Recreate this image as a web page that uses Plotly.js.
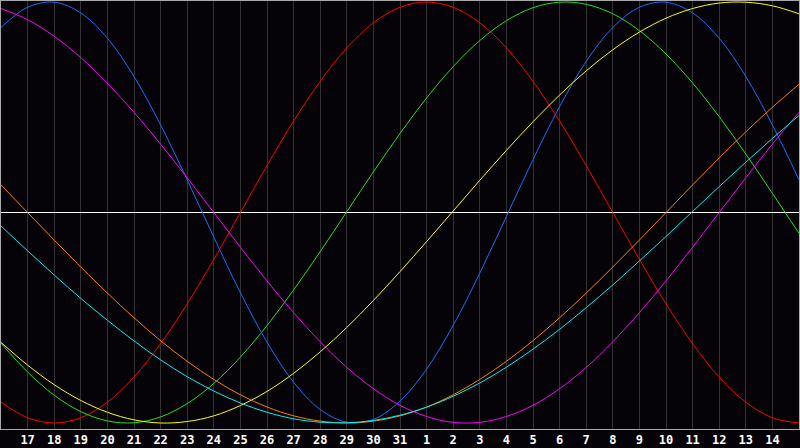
<!DOCTYPE html>
<html>
<head>
<meta charset="utf-8">
<script src="https://cdn.plot.ly/plotly-3.0.1.min.js"></script>
<style>
  html, body { margin: 0; padding: 0; background: #050307; }
  #chart { width: 800px; height: 448px; }
</style>
</head>
<body>
<div id="chart"></div>
<script>
// Day labels from 16 Oct to 15 Nov (edges are outside the labelled range)
const dayLabels = ['16','17','18','19','20','21','22','23','24','25','26','27','28','29','30','31',
                   '1','2','3','4','5','6','7','8','9','10','11','12','13','14','15'];
const tickLabels = ['17','18','19','20','21','22','23','24','25','26','27','28','29','30','31',
                    '1','2','3','4','5','6','7','8','9','10','11','12','13','14'];
const todayLabel = '31';

// Cycle values (-1 .. 1), one per day
const redValues = [-0.901,-0.975,-1.000,-0.975,-0.901,-0.782,-0.623,-0.434,-0.223,0.000,
  0.223,0.434,0.623,0.782,0.901,0.975,1.000,0.975,0.901,0.782,0.623,0.434,0.223,0.000,
  -0.223,-0.434,-0.623,-0.782,-0.901,-0.975,-1.000];
const greenValues = [-0.621,-0.758,-0.868,-0.946,-0.990,-0.999,-0.971,-0.908,-0.812,-0.687,
  -0.537,-0.368,-0.186,0.004,0.193,0.375,0.544,0.693,0.817,0.911,0.973,0.999,0.989,0.944,
  0.864,0.753,0.615,0.455,0.278,0.091,-0.099];
const blueValues = [0.879,0.975,0.999,0.948,0.828,0.646,0.416,0.155,-0.117,-0.381,
  -0.616,-0.806,-0.936,-0.996,-0.983,-0.896,-0.744,-0.536,-0.288,-0.019,0.251,0.503,0.718,
  0.879,0.975,0.999,0.948,0.828,0.646,0.416,0.155];
const magentaValues = [0.969,0.916,0.837,0.736,0.614,0.476,0.325,0.165,0.000,-0.165,
  -0.325,-0.476,-0.614,-0.736,-0.837,-0.916,-0.969,-0.997,-0.997,-0.969,-0.916,-0.837,
  -0.736,-0.614,-0.476,-0.325,-0.165,0.000,0.165,0.325,0.476];
const yellowValues = [-0.617,-0.725,-0.818,-0.893,-0.949,-0.985,-1.000,-0.993,-0.966,-0.917,
  -0.850,-0.764,-0.662,-0.546,-0.418,-0.281,-0.138,0.007,0.153,0.295,0.431,0.558,0.673,
  0.773,0.857,0.923,0.969,0.995,0.999,0.982,0.944];
const orangeValues = [0.131,0.000,-0.131,-0.259,-0.383,-0.500,-0.609,-0.707,-0.793,-0.866,
  -0.924,-0.966,-0.991,-1.000,-0.991,-0.966,-0.924,-0.866,-0.793,-0.707,-0.609,-0.500,
  -0.383,-0.259,-0.131,0.000,0.131,0.259,0.383,0.500,0.609];
const cyanValues = [-0.064,-0.182,-0.297,-0.408,-0.512,-0.610,-0.700,-0.780,-0.848,-0.905,
  -0.949,-0.980,-0.996,-0.999,-0.988,-0.963,-0.925,-0.873,-0.810,-0.735,-0.649,-0.555,
  -0.452,-0.344,-0.230,-0.114,0.005,0.123,0.239,0.352,0.461];

const series = [
  { name: 'red', values: redValues, color: '#ff0000' },
  { name: 'green', values: greenValues, color: '#22e022' },
  { name: 'blue', values: blueValues, color: '#1a6eff' },
  { name: 'magenta', values: magentaValues, color: '#ff00ff' },
  { name: 'yellow', values: yellowValues, color: '#ffff00' },
  { name: 'orange', values: orangeValues, color: '#ff8000' },
  { name: 'cyan', values: cyanValues, color: '#00f0f0' }
];

const traces = series.map(s => ({
  type: 'scatter',
  mode: 'lines',
  x: dayLabels,
  y: s.values,
  name: s.name,
  line: { color: s.color, width: 1, shape: 'spline', smoothing: 1 },
  hoverinfo: 'skip'
}));

const layout = {
  width: 800,
  height: 448,
  margin: { l: 1, r: 1, t: 1, b: 19, pad: 0 },
  paper_bgcolor: '#050307',
  plot_bgcolor: '#050307',
  showlegend: false,
  xaxis: {
    type: 'category',
    categoryorder: 'array',
    categoryarray: dayLabels,
    range: [0, dayLabels.length - 1],
    tickmode: 'array',
    tickvals: tickLabels,
    ticktext: tickLabels,
    showgrid: true,
    gridcolor: '#333333',
    gridwidth: 1,
    ticks: '',
    showline: true,
    linecolor: '#a8a8a8',
    linewidth: 1,
    mirror: true,
    zeroline: false,
    tickfont: { family: 'DejaVu Sans Mono', size: 12, color: '#ffffff', weight: 'bold' },
    fixedrange: true
  },
  yaxis: {
    range: [-1.0285, 1.00475],
    showgrid: false,
    showticklabels: false,
    ticks: '',
    zeroline: true,
    zerolinecolor: '#ffffff',
    zerolinewidth: 1,
    showline: true,
    linecolor: '#a8a8a8',
    linewidth: 1,
    mirror: true,
    fixedrange: true
  },
  shapes: [{
    type: 'line',
    xref: 'x', yref: 'paper',
    x0: todayLabel, x1: todayLabel, y0: 0, y1: 1,
    line: { color: '#ffffff', width: 1 },
    layer: 'below'
  }]
};

Plotly.newPlot('chart', traces, layout, { staticPlot: true, displayModeBar: false });
</script>
</body>
</html>
